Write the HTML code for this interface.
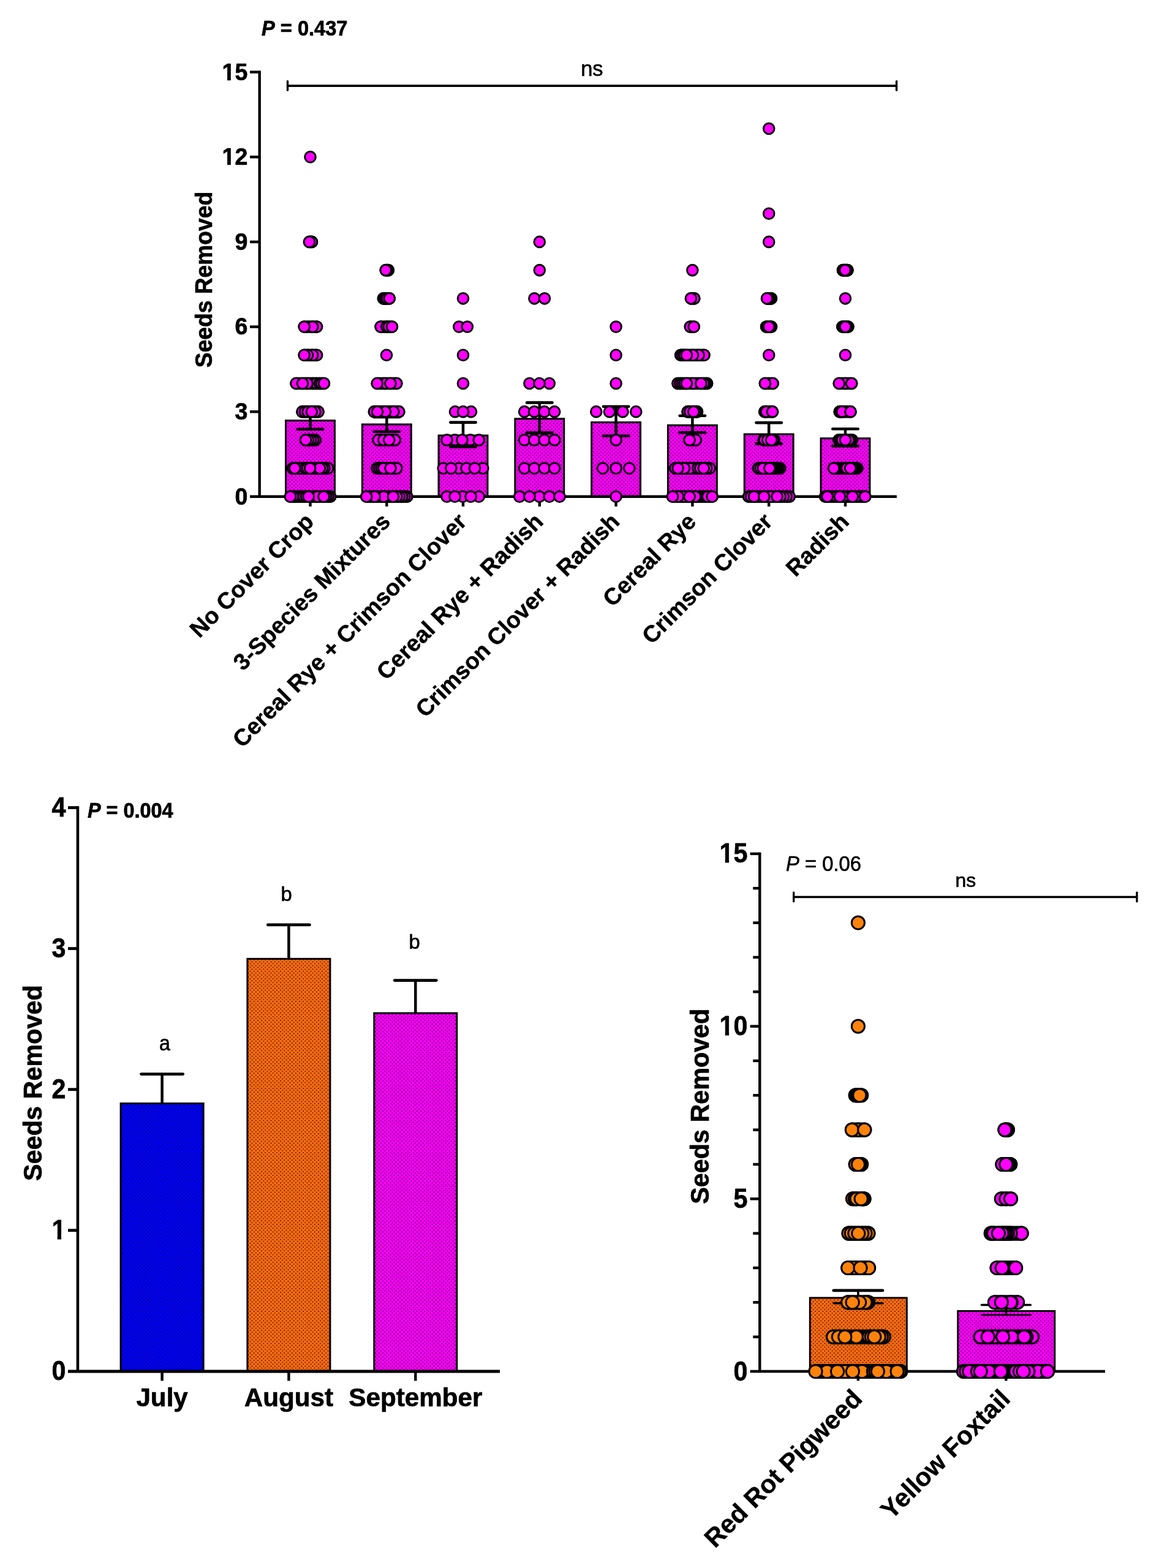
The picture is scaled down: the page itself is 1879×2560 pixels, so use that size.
<!DOCTYPE html>
<html lang="en"><head><meta charset="utf-8"><title>Seeds Removed</title>
<style>html,body{margin:0;padding:0;background:#fff}svg{display:block}text{font-family:"Liberation Sans",sans-serif;fill:#000}</style>
</head><body>
<svg width="1879" height="2560" viewBox="0 0 1879 2560" role="img" aria-label="Seeds removed charts">
<defs>
<pattern id="pm" width="6.19" height="6.17" patternUnits="userSpaceOnUse">
<rect width="6.19" height="6.17" fill="#FF00FF"/>
<circle cx="0" cy="0" r="0.86" fill="#000"/>
<circle cx="6.19" cy="0" r="0.86" fill="#000"/>
<circle cx="0" cy="6.17" r="0.86" fill="#000"/>
<circle cx="6.19" cy="6.17" r="0.86" fill="#000"/>
<circle cx="3.1" cy="3.08" r="0.86" fill="#000"/>
</pattern>
<pattern id="pb" width="6.19" height="6.17" patternUnits="userSpaceOnUse">
<rect width="6.19" height="6.17" fill="#0000FF"/>
<circle cx="0" cy="0" r="0.86" fill="#000"/>
<circle cx="6.19" cy="0" r="0.86" fill="#000"/>
<circle cx="0" cy="6.17" r="0.86" fill="#000"/>
<circle cx="6.19" cy="6.17" r="0.86" fill="#000"/>
<circle cx="3.1" cy="3.08" r="0.86" fill="#000"/>
</pattern>
<pattern id="po" width="6.19" height="6.17" patternUnits="userSpaceOnUse">
<rect width="6.19" height="6.17" fill="#FF6A0D"/>
<circle cx="0" cy="0" r="0.86" fill="#000"/>
<circle cx="6.19" cy="0" r="0.86" fill="#000"/>
<circle cx="0" cy="6.17" r="0.86" fill="#000"/>
<circle cx="6.19" cy="6.17" r="0.86" fill="#000"/>
<circle cx="3.1" cy="3.08" r="0.86" fill="#000"/>
</pattern>
</defs>
<rect width="1879" height="2560" fill="#fff"/>
<g id="chart1">
<rect x="466.55" y="686.6" width="79.9" height="124.2" fill="url(#pm)" stroke="#000" stroke-width="3"/>
<rect x="591.35" y="692.9" width="79.9" height="117.9" fill="url(#pm)" stroke="#000" stroke-width="3"/>
<rect x="716.05" y="711" width="79.9" height="99.8" fill="url(#pm)" stroke="#000" stroke-width="3"/>
<rect x="840.85" y="683.7" width="79.9" height="127.1" fill="url(#pm)" stroke="#000" stroke-width="3"/>
<rect x="965.65" y="689.5" width="79.9" height="121.3" fill="url(#pm)" stroke="#000" stroke-width="3"/>
<rect x="1090.45" y="694.3" width="79.9" height="116.5" fill="url(#pm)" stroke="#000" stroke-width="3"/>
<rect x="1215.25" y="708.9" width="79.9" height="101.9" fill="url(#pm)" stroke="#000" stroke-width="3"/>
<rect x="1340.05" y="715.7" width="79.9" height="95.1" fill="url(#pm)" stroke="#000" stroke-width="3"/>
<line x1="423.7" y1="115.4" x2="423.7" y2="810.8" stroke="#000" stroke-width="4.4" stroke-linecap="butt"/>
<line x1="408" y1="810.8" x2="1463.9" y2="810.8" stroke="#000" stroke-width="4.4" stroke-linecap="butt"/>
<line x1="408" y1="672.17" x2="423.7" y2="672.17" stroke="#000" stroke-width="4.4" stroke-linecap="butt"/>
<line x1="408" y1="533.54" x2="423.7" y2="533.54" stroke="#000" stroke-width="4.4" stroke-linecap="butt"/>
<line x1="408" y1="394.91" x2="423.7" y2="394.91" stroke="#000" stroke-width="4.4" stroke-linecap="butt"/>
<line x1="408" y1="256.28" x2="423.7" y2="256.28" stroke="#000" stroke-width="4.4" stroke-linecap="butt"/>
<line x1="408" y1="117.65" x2="423.7" y2="117.65" stroke="#000" stroke-width="4.4" stroke-linecap="butt"/>
<line x1="506.5" y1="810.8" x2="506.5" y2="826.9" stroke="#000" stroke-width="4.4" stroke-linecap="butt"/>
<line x1="631.3" y1="810.8" x2="631.3" y2="826.9" stroke="#000" stroke-width="4.4" stroke-linecap="butt"/>
<line x1="756" y1="810.8" x2="756" y2="826.9" stroke="#000" stroke-width="4.4" stroke-linecap="butt"/>
<line x1="880.8" y1="810.8" x2="880.8" y2="826.9" stroke="#000" stroke-width="4.4" stroke-linecap="butt"/>
<line x1="1005.6" y1="810.8" x2="1005.6" y2="826.9" stroke="#000" stroke-width="4.4" stroke-linecap="butt"/>
<line x1="1130.4" y1="810.8" x2="1130.4" y2="826.9" stroke="#000" stroke-width="4.4" stroke-linecap="butt"/>
<line x1="1255.2" y1="810.8" x2="1255.2" y2="826.9" stroke="#000" stroke-width="4.4" stroke-linecap="butt"/>
<line x1="1380" y1="810.8" x2="1380" y2="826.9" stroke="#000" stroke-width="4.4" stroke-linecap="butt"/>
<text transform="translate(404.3 823.7) scale(1 1.050)" font-size="37.5" font-weight="bold" text-anchor="end" stroke="#000" stroke-width="0.7" stroke-linejoin="round">0</text>
<text transform="translate(404.3 685.07) scale(1 1.050)" font-size="37.5" font-weight="bold" text-anchor="end" stroke="#000" stroke-width="0.7" stroke-linejoin="round">3</text>
<text transform="translate(404.3 546.44) scale(1 1.050)" font-size="37.5" font-weight="bold" text-anchor="end" stroke="#000" stroke-width="0.7" stroke-linejoin="round">6</text>
<text transform="translate(404.3 407.81) scale(1 1.050)" font-size="37.5" font-weight="bold" text-anchor="end" stroke="#000" stroke-width="0.7" stroke-linejoin="round">9</text>
<text transform="translate(404.3 269.18) scale(1 1.050)" font-size="37.5" font-weight="bold" text-anchor="end" stroke="#000" stroke-width="0.7" stroke-linejoin="round">12</text>
<g transform="translate(404.3 269.18) scale(1 1.050)" fill="#fff"><rect x="-40.54" y="-5.67" width="7.23" height="6.88"/><rect x="-27.44" y="-5.67" width="6.74" height="6.88"/></g>
<text transform="translate(404.3 130.55) scale(1 1.050)" font-size="37.5" font-weight="bold" text-anchor="end" stroke="#000" stroke-width="0.7" stroke-linejoin="round">15</text>
<g transform="translate(404.3 130.55) scale(1 1.050)" fill="#fff"><rect x="-40.54" y="-5.67" width="7.23" height="6.88"/><rect x="-27.44" y="-5.67" width="6.74" height="6.88"/></g>
<text transform="translate(345.6 456.5) rotate(-90) scale(1 1.030)" font-size="37.2" font-weight="bold" text-anchor="middle" stroke="#000" stroke-width="0.7" stroke-linejoin="round">Seeds Removed</text>
<line x1="506.5" y1="672.3" x2="506.5" y2="700.7" stroke="#000" stroke-width="4.5" stroke-linecap="butt"/>
<line x1="485.8" y1="672.3" x2="527.2" y2="672.3" stroke="#000" stroke-width="4.6" stroke-linecap="round"/>
<line x1="485.8" y1="700.7" x2="527.2" y2="700.7" stroke="#000" stroke-width="4.6" stroke-linecap="round"/>
<line x1="631.3" y1="680.9" x2="631.3" y2="704.7" stroke="#000" stroke-width="4.5" stroke-linecap="butt"/>
<line x1="610.6" y1="680.9" x2="652" y2="680.9" stroke="#000" stroke-width="4.6" stroke-linecap="round"/>
<line x1="610.6" y1="704.7" x2="652" y2="704.7" stroke="#000" stroke-width="4.6" stroke-linecap="round"/>
<line x1="756" y1="689.6" x2="756" y2="729.4" stroke="#000" stroke-width="4.5" stroke-linecap="butt"/>
<line x1="735.3" y1="689.6" x2="776.7" y2="689.6" stroke="#000" stroke-width="4.6" stroke-linecap="round"/>
<line x1="735.3" y1="729.4" x2="776.7" y2="729.4" stroke="#000" stroke-width="4.6" stroke-linecap="round"/>
<line x1="880.8" y1="657.4" x2="880.8" y2="706.6" stroke="#000" stroke-width="4.5" stroke-linecap="butt"/>
<line x1="860.1" y1="657.4" x2="901.5" y2="657.4" stroke="#000" stroke-width="4.6" stroke-linecap="round"/>
<line x1="860.1" y1="706.6" x2="901.5" y2="706.6" stroke="#000" stroke-width="4.6" stroke-linecap="round"/>
<line x1="1005.6" y1="663.8" x2="1005.6" y2="711.7" stroke="#000" stroke-width="4.5" stroke-linecap="butt"/>
<line x1="984.9" y1="663.8" x2="1026.3" y2="663.8" stroke="#000" stroke-width="4.6" stroke-linecap="round"/>
<line x1="984.9" y1="711.7" x2="1026.3" y2="711.7" stroke="#000" stroke-width="4.6" stroke-linecap="round"/>
<line x1="1130.4" y1="678.8" x2="1130.4" y2="706.2" stroke="#000" stroke-width="4.5" stroke-linecap="butt"/>
<line x1="1109.7" y1="678.8" x2="1151.1" y2="678.8" stroke="#000" stroke-width="4.6" stroke-linecap="round"/>
<line x1="1109.7" y1="706.2" x2="1151.1" y2="706.2" stroke="#000" stroke-width="4.6" stroke-linecap="round"/>
<line x1="1255.2" y1="690.1" x2="1255.2" y2="724.4" stroke="#000" stroke-width="4.5" stroke-linecap="butt"/>
<line x1="1234.5" y1="690.1" x2="1275.9" y2="690.1" stroke="#000" stroke-width="4.6" stroke-linecap="round"/>
<line x1="1234.5" y1="724.4" x2="1275.9" y2="724.4" stroke="#000" stroke-width="4.6" stroke-linecap="round"/>
<line x1="1380" y1="700.3" x2="1380" y2="728.3" stroke="#000" stroke-width="4.5" stroke-linecap="butt"/>
<line x1="1359.3" y1="700.3" x2="1400.7" y2="700.3" stroke="#000" stroke-width="4.6" stroke-linecap="round"/>
<line x1="1359.3" y1="728.3" x2="1400.7" y2="728.3" stroke="#000" stroke-width="4.6" stroke-linecap="round"/>
<rect x="463.7" y="800.5" width="85.7" height="20.6" rx="10.3" fill="#000"/>
<circle cx="489.5" cy="810.8" r="8.85" fill="#FF00FF" stroke="#000" stroke-width="2.9"/>
<circle cx="514.5" cy="810.8" r="8.85" fill="#FF00FF" stroke="#000" stroke-width="2.9"/>
<circle cx="539.1" cy="810.8" r="8.85" fill="#FF00FF" stroke="#000" stroke-width="2.9"/>
<circle cx="518.5" cy="810.8" r="8.85" fill="#FF00FF" stroke="#000" stroke-width="2.9"/>
<circle cx="482" cy="810.8" r="8.85" fill="#FF00FF" stroke="#000" stroke-width="2.9"/>
<circle cx="496" cy="810.8" r="8.85" fill="#FF00FF" stroke="#000" stroke-width="2.9"/>
<circle cx="535.5" cy="810.8" r="8.85" fill="#FF00FF" stroke="#000" stroke-width="2.9"/>
<circle cx="478" cy="810.8" r="8.85" fill="#FF00FF" stroke="#000" stroke-width="2.9"/>
<circle cx="500" cy="810.8" r="8.85" fill="#FF00FF" stroke="#000" stroke-width="2.9"/>
<circle cx="532" cy="810.8" r="8.85" fill="#FF00FF" stroke="#000" stroke-width="2.9"/>
<circle cx="474" cy="810.8" r="8.85" fill="#FF00FF" stroke="#000" stroke-width="2.9"/>
<circle cx="503.7" cy="810.8" r="8.85" fill="#FF00FF" stroke="#000" stroke-width="2.9"/>
<circle cx="528.5" cy="810.8" r="8.85" fill="#FF00FF" stroke="#000" stroke-width="2.9"/>
<rect x="467.7" y="754.29" width="77.7" height="20.6" rx="10.3" fill="#000"/>
<circle cx="535.1" cy="764.59" r="8.85" fill="#FF00FF" stroke="#000" stroke-width="2.9"/>
<circle cx="490.5" cy="764.59" r="8.85" fill="#FF00FF" stroke="#000" stroke-width="2.9"/>
<circle cx="529.5" cy="764.59" r="8.85" fill="#FF00FF" stroke="#000" stroke-width="2.9"/>
<circle cx="498.5" cy="764.59" r="8.85" fill="#FF00FF" stroke="#000" stroke-width="2.9"/>
<circle cx="526" cy="764.59" r="8.85" fill="#FF00FF" stroke="#000" stroke-width="2.9"/>
<circle cx="502" cy="764.59" r="8.85" fill="#FF00FF" stroke="#000" stroke-width="2.9"/>
<circle cx="478" cy="764.59" r="8.85" fill="#FF00FF" stroke="#000" stroke-width="2.9"/>
<circle cx="521.8" cy="764.59" r="8.85" fill="#FF00FF" stroke="#000" stroke-width="2.9"/>
<circle cx="481.2" cy="764.59" r="8.85" fill="#FF00FF" stroke="#000" stroke-width="2.9"/>
<circle cx="506.1" cy="764.59" r="8.85" fill="#FF00FF" stroke="#000" stroke-width="2.9"/>
<rect x="488.7" y="708.08" width="36.1" height="20.6" rx="10.3" fill="#000"/>
<circle cx="514.5" cy="718.38" r="8.85" fill="#FF00FF" stroke="#000" stroke-width="2.9"/>
<circle cx="511" cy="718.38" r="8.85" fill="#FF00FF" stroke="#000" stroke-width="2.9"/>
<circle cx="507" cy="718.38" r="8.85" fill="#FF00FF" stroke="#000" stroke-width="2.9"/>
<circle cx="503" cy="718.38" r="8.85" fill="#FF00FF" stroke="#000" stroke-width="2.9"/>
<circle cx="499" cy="718.38" r="8.85" fill="#FF00FF" stroke="#000" stroke-width="2.9"/>
<rect x="483.2" y="661.87" width="46.6" height="20.6" rx="10.3" fill="#000"/>
<circle cx="493.5" cy="672.17" r="8.85" fill="#FF00FF" stroke="#000" stroke-width="2.9"/>
<circle cx="498" cy="672.17" r="8.85" fill="#FF00FF" stroke="#000" stroke-width="2.9"/>
<circle cx="519.5" cy="672.17" r="8.85" fill="#FF00FF" stroke="#000" stroke-width="2.9"/>
<circle cx="502.5" cy="672.17" r="8.85" fill="#FF00FF" stroke="#000" stroke-width="2.9"/>
<circle cx="514.5" cy="672.17" r="8.85" fill="#FF00FF" stroke="#000" stroke-width="2.9"/>
<circle cx="508.8" cy="672.17" r="8.85" fill="#FF00FF" stroke="#000" stroke-width="2.9"/>
<rect x="473.2" y="615.66" width="66" height="20.6" rx="10.3" fill="#000"/>
<circle cx="511.5" cy="625.96" r="8.85" fill="#FF00FF" stroke="#000" stroke-width="2.9"/>
<circle cx="516.5" cy="625.96" r="8.85" fill="#FF00FF" stroke="#000" stroke-width="2.9"/>
<circle cx="483.5" cy="625.96" r="8.85" fill="#FF00FF" stroke="#000" stroke-width="2.9"/>
<circle cx="501.5" cy="625.96" r="8.85" fill="#FF00FF" stroke="#000" stroke-width="2.9"/>
<circle cx="521.8" cy="625.96" r="8.85" fill="#FF00FF" stroke="#000" stroke-width="2.9"/>
<circle cx="525" cy="625.96" r="8.85" fill="#FF00FF" stroke="#000" stroke-width="2.9"/>
<circle cx="494" cy="625.96" r="8.85" fill="#FF00FF" stroke="#000" stroke-width="2.9"/>
<circle cx="528.9" cy="625.96" r="8.85" fill="#FF00FF" stroke="#000" stroke-width="2.9"/>
<rect x="486.4" y="569.45" width="40.9" height="20.6" rx="10.3" fill="#000"/>
<circle cx="517" cy="579.75" r="8.85" fill="#FF00FF" stroke="#000" stroke-width="2.9"/>
<circle cx="510.3" cy="579.75" r="8.85" fill="#FF00FF" stroke="#000" stroke-width="2.9"/>
<circle cx="502" cy="579.75" r="8.85" fill="#FF00FF" stroke="#000" stroke-width="2.9"/>
<circle cx="496.7" cy="579.75" r="8.85" fill="#FF00FF" stroke="#000" stroke-width="2.9"/>
<rect x="486.4" y="523.24" width="40.9" height="20.6" rx="10.3" fill="#000"/>
<circle cx="517" cy="533.54" r="8.85" fill="#FF00FF" stroke="#000" stroke-width="2.9"/>
<circle cx="510.3" cy="533.54" r="8.85" fill="#FF00FF" stroke="#000" stroke-width="2.9"/>
<circle cx="496.7" cy="533.54" r="8.85" fill="#FF00FF" stroke="#000" stroke-width="2.9"/>
<rect x="494.7" y="384.61" width="24.6" height="20.6" rx="10.3" fill="#000"/>
<circle cx="509" cy="394.91" r="8.85" fill="#FF00FF" stroke="#000" stroke-width="2.9"/>
<circle cx="505" cy="394.91" r="8.85" fill="#FF00FF" stroke="#000" stroke-width="2.9"/>
<circle cx="506.5" cy="256.28" r="8.85" fill="#FF00FF" stroke="#000" stroke-width="2.9"/>
<rect x="588" y="800.5" width="86.6" height="20.6" rx="10.3" fill="#000"/>
<circle cx="664.3" cy="810.8" r="8.85" fill="#FF00FF" stroke="#000" stroke-width="2.9"/>
<circle cx="660.3" cy="810.8" r="8.85" fill="#FF00FF" stroke="#000" stroke-width="2.9"/>
<circle cx="626.5" cy="810.8" r="8.85" fill="#FF00FF" stroke="#000" stroke-width="2.9"/>
<circle cx="656.3" cy="810.8" r="8.85" fill="#FF00FF" stroke="#000" stroke-width="2.9"/>
<circle cx="611.6" cy="810.8" r="8.85" fill="#FF00FF" stroke="#000" stroke-width="2.9"/>
<circle cx="651.8" cy="810.8" r="8.85" fill="#FF00FF" stroke="#000" stroke-width="2.9"/>
<circle cx="647.3" cy="810.8" r="8.85" fill="#FF00FF" stroke="#000" stroke-width="2.9"/>
<circle cx="598.3" cy="810.8" r="8.85" fill="#FF00FF" stroke="#000" stroke-width="2.9"/>
<circle cx="641.9" cy="810.8" r="8.85" fill="#FF00FF" stroke="#000" stroke-width="2.9"/>
<rect x="605.4" y="754.29" width="52.2" height="20.6" rx="10.3" fill="#000"/>
<circle cx="615.7" cy="764.59" r="8.85" fill="#FF00FF" stroke="#000" stroke-width="2.9"/>
<circle cx="619.3" cy="764.59" r="8.85" fill="#FF00FF" stroke="#000" stroke-width="2.9"/>
<circle cx="622.8" cy="764.59" r="8.85" fill="#FF00FF" stroke="#000" stroke-width="2.9"/>
<circle cx="626.3" cy="764.59" r="8.85" fill="#FF00FF" stroke="#000" stroke-width="2.9"/>
<circle cx="647.3" cy="764.59" r="8.85" fill="#FF00FF" stroke="#000" stroke-width="2.9"/>
<circle cx="637.5" cy="764.59" r="8.85" fill="#FF00FF" stroke="#000" stroke-width="2.9"/>
<rect x="607.4" y="708.08" width="47.4" height="20.6" rx="10.3" fill="#000"/>
<circle cx="617.7" cy="718.38" r="8.85" fill="#FF00FF" stroke="#000" stroke-width="2.9"/>
<circle cx="644.5" cy="718.38" r="8.85" fill="#FF00FF" stroke="#000" stroke-width="2.9"/>
<circle cx="626.3" cy="718.38" r="8.85" fill="#FF00FF" stroke="#000" stroke-width="2.9"/>
<circle cx="635.2" cy="718.38" r="8.85" fill="#FF00FF" stroke="#000" stroke-width="2.9"/>
<rect x="600.6" y="661.87" width="61" height="20.6" rx="10.3" fill="#000"/>
<circle cx="651.3" cy="672.17" r="8.85" fill="#FF00FF" stroke="#000" stroke-width="2.9"/>
<circle cx="642.3" cy="672.17" r="8.85" fill="#FF00FF" stroke="#000" stroke-width="2.9"/>
<circle cx="628.9" cy="672.17" r="8.85" fill="#FF00FF" stroke="#000" stroke-width="2.9"/>
<circle cx="610.9" cy="672.17" r="8.85" fill="#FF00FF" stroke="#000" stroke-width="2.9"/>
<circle cx="616" cy="672.17" r="8.85" fill="#FF00FF" stroke="#000" stroke-width="2.9"/>
<rect x="605.5" y="615.66" width="52.1" height="20.6" rx="10.3" fill="#000"/>
<circle cx="626.8" cy="625.96" r="8.85" fill="#FF00FF" stroke="#000" stroke-width="2.9"/>
<circle cx="647.3" cy="625.96" r="8.85" fill="#FF00FF" stroke="#000" stroke-width="2.9"/>
<circle cx="629.8" cy="625.96" r="8.85" fill="#FF00FF" stroke="#000" stroke-width="2.9"/>
<circle cx="615.8" cy="625.96" r="8.85" fill="#FF00FF" stroke="#000" stroke-width="2.9"/>
<circle cx="637.5" cy="625.96" r="8.85" fill="#FF00FF" stroke="#000" stroke-width="2.9"/>
<circle cx="631" cy="579.75" r="8.85" fill="#FF00FF" stroke="#000" stroke-width="2.9"/>
<rect x="611.3" y="523.24" width="38.9" height="20.6" rx="10.3" fill="#000"/>
<circle cx="621.6" cy="533.54" r="8.85" fill="#FF00FF" stroke="#000" stroke-width="2.9"/>
<circle cx="631.3" cy="533.54" r="8.85" fill="#FF00FF" stroke="#000" stroke-width="2.9"/>
<circle cx="634.8" cy="533.54" r="8.85" fill="#FF00FF" stroke="#000" stroke-width="2.9"/>
<circle cx="639.9" cy="533.54" r="8.85" fill="#FF00FF" stroke="#000" stroke-width="2.9"/>
<rect x="615.6" y="477.03" width="30.4" height="20.6" rx="10.3" fill="#000"/>
<circle cx="625.9" cy="487.33" r="8.85" fill="#FF00FF" stroke="#000" stroke-width="2.9"/>
<circle cx="627.9" cy="487.33" r="8.85" fill="#FF00FF" stroke="#000" stroke-width="2.9"/>
<circle cx="629.9" cy="487.33" r="8.85" fill="#FF00FF" stroke="#000" stroke-width="2.9"/>
<circle cx="631.9" cy="487.33" r="8.85" fill="#FF00FF" stroke="#000" stroke-width="2.9"/>
<circle cx="635.7" cy="487.33" r="8.85" fill="#FF00FF" stroke="#000" stroke-width="2.9"/>
<rect x="619.4" y="430.82" width="24.7" height="20.6" rx="10.3" fill="#000"/>
<circle cx="633.8" cy="441.12" r="8.85" fill="#FF00FF" stroke="#000" stroke-width="2.9"/>
<circle cx="631.8" cy="441.12" r="8.85" fill="#FF00FF" stroke="#000" stroke-width="2.9"/>
<circle cx="629.7" cy="441.12" r="8.85" fill="#FF00FF" stroke="#000" stroke-width="2.9"/>
<circle cx="755.5" cy="810.8" r="8.85" fill="#FF00FF" stroke="#000" stroke-width="2.9"/>
<circle cx="729.5" cy="810.8" r="8.85" fill="#FF00FF" stroke="#000" stroke-width="2.9"/>
<circle cx="781.7" cy="810.8" r="8.85" fill="#FF00FF" stroke="#000" stroke-width="2.9"/>
<circle cx="742.6" cy="810.8" r="8.85" fill="#FF00FF" stroke="#000" stroke-width="2.9"/>
<circle cx="768.6" cy="810.8" r="8.85" fill="#FF00FF" stroke="#000" stroke-width="2.9"/>
<circle cx="723.7" cy="764.59" r="8.85" fill="#FF00FF" stroke="#000" stroke-width="2.9"/>
<circle cx="749" cy="764.59" r="8.85" fill="#FF00FF" stroke="#000" stroke-width="2.9"/>
<circle cx="761.5" cy="764.59" r="8.85" fill="#FF00FF" stroke="#000" stroke-width="2.9"/>
<circle cx="788.3" cy="764.59" r="8.85" fill="#FF00FF" stroke="#000" stroke-width="2.9"/>
<circle cx="736.3" cy="764.59" r="8.85" fill="#FF00FF" stroke="#000" stroke-width="2.9"/>
<circle cx="775" cy="764.59" r="8.85" fill="#FF00FF" stroke="#000" stroke-width="2.9"/>
<circle cx="742.6" cy="718.38" r="8.85" fill="#FF00FF" stroke="#000" stroke-width="2.9"/>
<circle cx="767.8" cy="718.38" r="8.85" fill="#FF00FF" stroke="#000" stroke-width="2.9"/>
<circle cx="754.4" cy="718.38" r="8.85" fill="#FF00FF" stroke="#000" stroke-width="2.9"/>
<circle cx="729.5" cy="718.38" r="8.85" fill="#FF00FF" stroke="#000" stroke-width="2.9"/>
<circle cx="781.7" cy="718.38" r="8.85" fill="#FF00FF" stroke="#000" stroke-width="2.9"/>
<circle cx="743" cy="672.17" r="8.85" fill="#FF00FF" stroke="#000" stroke-width="2.9"/>
<circle cx="769" cy="672.17" r="8.85" fill="#FF00FF" stroke="#000" stroke-width="2.9"/>
<circle cx="756" cy="672.17" r="8.85" fill="#FF00FF" stroke="#000" stroke-width="2.9"/>
<circle cx="756" cy="625.96" r="8.85" fill="#FF00FF" stroke="#000" stroke-width="2.9"/>
<circle cx="756" cy="579.75" r="8.85" fill="#FF00FF" stroke="#000" stroke-width="2.9"/>
<circle cx="749.3" cy="533.54" r="8.85" fill="#FF00FF" stroke="#000" stroke-width="2.9"/>
<circle cx="762.9" cy="533.54" r="8.85" fill="#FF00FF" stroke="#000" stroke-width="2.9"/>
<circle cx="756" cy="487.33" r="8.85" fill="#FF00FF" stroke="#000" stroke-width="2.9"/>
<circle cx="880.5" cy="810.8" r="8.85" fill="#FF00FF" stroke="#000" stroke-width="2.9"/>
<circle cx="848.2" cy="810.8" r="8.85" fill="#FF00FF" stroke="#000" stroke-width="2.9"/>
<circle cx="864.4" cy="810.8" r="8.85" fill="#FF00FF" stroke="#000" stroke-width="2.9"/>
<circle cx="896.8" cy="810.8" r="8.85" fill="#FF00FF" stroke="#000" stroke-width="2.9"/>
<circle cx="913.5" cy="810.8" r="8.85" fill="#FF00FF" stroke="#000" stroke-width="2.9"/>
<circle cx="856.1" cy="764.59" r="8.85" fill="#FF00FF" stroke="#000" stroke-width="2.9"/>
<circle cx="872.3" cy="764.59" r="8.85" fill="#FF00FF" stroke="#000" stroke-width="2.9"/>
<circle cx="888.7" cy="764.59" r="8.85" fill="#FF00FF" stroke="#000" stroke-width="2.9"/>
<circle cx="905.2" cy="764.59" r="8.85" fill="#FF00FF" stroke="#000" stroke-width="2.9"/>
<circle cx="856.1" cy="718.38" r="8.85" fill="#FF00FF" stroke="#000" stroke-width="2.9"/>
<circle cx="872.3" cy="718.38" r="8.85" fill="#FF00FF" stroke="#000" stroke-width="2.9"/>
<circle cx="888.7" cy="718.38" r="8.85" fill="#FF00FF" stroke="#000" stroke-width="2.9"/>
<circle cx="905.2" cy="718.38" r="8.85" fill="#FF00FF" stroke="#000" stroke-width="2.9"/>
<circle cx="856.1" cy="672.17" r="8.85" fill="#FF00FF" stroke="#000" stroke-width="2.9"/>
<circle cx="872.3" cy="672.17" r="8.85" fill="#FF00FF" stroke="#000" stroke-width="2.9"/>
<circle cx="888.7" cy="672.17" r="8.85" fill="#FF00FF" stroke="#000" stroke-width="2.9"/>
<circle cx="905.2" cy="672.17" r="8.85" fill="#FF00FF" stroke="#000" stroke-width="2.9"/>
<circle cx="864.4" cy="625.96" r="8.85" fill="#FF00FF" stroke="#000" stroke-width="2.9"/>
<circle cx="896.8" cy="625.96" r="8.85" fill="#FF00FF" stroke="#000" stroke-width="2.9"/>
<circle cx="880.5" cy="625.96" r="8.85" fill="#FF00FF" stroke="#000" stroke-width="2.9"/>
<circle cx="872.4" cy="487.33" r="8.85" fill="#FF00FF" stroke="#000" stroke-width="2.9"/>
<circle cx="889" cy="487.33" r="8.85" fill="#FF00FF" stroke="#000" stroke-width="2.9"/>
<circle cx="880.8" cy="441.12" r="8.85" fill="#FF00FF" stroke="#000" stroke-width="2.9"/>
<circle cx="880.8" cy="394.91" r="8.85" fill="#FF00FF" stroke="#000" stroke-width="2.9"/>
<circle cx="1005.6" cy="810.8" r="8.85" fill="#FF00FF" stroke="#000" stroke-width="2.9"/>
<circle cx="984" cy="764.59" r="8.85" fill="#FF00FF" stroke="#000" stroke-width="2.9"/>
<circle cx="1005.6" cy="764.59" r="8.85" fill="#FF00FF" stroke="#000" stroke-width="2.9"/>
<circle cx="1027.3" cy="764.59" r="8.85" fill="#FF00FF" stroke="#000" stroke-width="2.9"/>
<circle cx="1005.6" cy="718.38" r="8.85" fill="#FF00FF" stroke="#000" stroke-width="2.9"/>
<circle cx="973.3" cy="672.17" r="8.85" fill="#FF00FF" stroke="#000" stroke-width="2.9"/>
<circle cx="994.9" cy="672.17" r="8.85" fill="#FF00FF" stroke="#000" stroke-width="2.9"/>
<circle cx="1016.6" cy="672.17" r="8.85" fill="#FF00FF" stroke="#000" stroke-width="2.9"/>
<circle cx="1038.3" cy="672.17" r="8.85" fill="#FF00FF" stroke="#000" stroke-width="2.9"/>
<circle cx="1005.6" cy="625.96" r="8.85" fill="#FF00FF" stroke="#000" stroke-width="2.9"/>
<circle cx="1005.6" cy="579.75" r="8.85" fill="#FF00FF" stroke="#000" stroke-width="2.9"/>
<circle cx="1005.6" cy="533.54" r="8.85" fill="#FF00FF" stroke="#000" stroke-width="2.9"/>
<rect x="1087.8" y="800.5" width="85.1" height="20.6" rx="10.3" fill="#000"/>
<circle cx="1142.4" cy="810.8" r="8.85" fill="#FF00FF" stroke="#000" stroke-width="2.9"/>
<circle cx="1146.4" cy="810.8" r="8.85" fill="#FF00FF" stroke="#000" stroke-width="2.9"/>
<circle cx="1149.4" cy="810.8" r="8.85" fill="#FF00FF" stroke="#000" stroke-width="2.9"/>
<circle cx="1152.4" cy="810.8" r="8.85" fill="#FF00FF" stroke="#000" stroke-width="2.9"/>
<circle cx="1134.9" cy="810.8" r="8.85" fill="#FF00FF" stroke="#000" stroke-width="2.9"/>
<circle cx="1116.4" cy="810.8" r="8.85" fill="#FF00FF" stroke="#000" stroke-width="2.9"/>
<circle cx="1106.9" cy="810.8" r="8.85" fill="#FF00FF" stroke="#000" stroke-width="2.9"/>
<circle cx="1155.4" cy="810.8" r="8.85" fill="#FF00FF" stroke="#000" stroke-width="2.9"/>
<circle cx="1098.1" cy="810.8" r="8.85" fill="#FF00FF" stroke="#000" stroke-width="2.9"/>
<circle cx="1125.6" cy="810.8" r="8.85" fill="#FF00FF" stroke="#000" stroke-width="2.9"/>
<circle cx="1162.6" cy="810.8" r="8.85" fill="#FF00FF" stroke="#000" stroke-width="2.9"/>
<rect x="1092.2" y="754.29" width="76.6" height="20.6" rx="10.3" fill="#000"/>
<circle cx="1126.4" cy="764.59" r="8.85" fill="#FF00FF" stroke="#000" stroke-width="2.9"/>
<circle cx="1117" cy="764.59" r="8.85" fill="#FF00FF" stroke="#000" stroke-width="2.9"/>
<circle cx="1158.5" cy="764.59" r="8.85" fill="#FF00FF" stroke="#000" stroke-width="2.9"/>
<circle cx="1139.4" cy="764.59" r="8.85" fill="#FF00FF" stroke="#000" stroke-width="2.9"/>
<circle cx="1143.4" cy="764.59" r="8.85" fill="#FF00FF" stroke="#000" stroke-width="2.9"/>
<circle cx="1153.4" cy="764.59" r="8.85" fill="#FF00FF" stroke="#000" stroke-width="2.9"/>
<circle cx="1102.5" cy="764.59" r="8.85" fill="#FF00FF" stroke="#000" stroke-width="2.9"/>
<circle cx="1106.7" cy="764.59" r="8.85" fill="#FF00FF" stroke="#000" stroke-width="2.9"/>
<circle cx="1148.7" cy="764.59" r="8.85" fill="#FF00FF" stroke="#000" stroke-width="2.9"/>
<rect x="1115.3" y="708.08" width="30.7" height="20.6" rx="10.3" fill="#000"/>
<circle cx="1135.7" cy="718.38" r="8.85" fill="#FF00FF" stroke="#000" stroke-width="2.9"/>
<circle cx="1125.6" cy="718.38" r="8.85" fill="#FF00FF" stroke="#000" stroke-width="2.9"/>
<rect x="1112.3" y="661.87" width="36" height="20.6" rx="10.3" fill="#000"/>
<circle cx="1122.6" cy="672.17" r="8.85" fill="#FF00FF" stroke="#000" stroke-width="2.9"/>
<circle cx="1126.4" cy="672.17" r="8.85" fill="#FF00FF" stroke="#000" stroke-width="2.9"/>
<circle cx="1138" cy="672.17" r="8.85" fill="#FF00FF" stroke="#000" stroke-width="2.9"/>
<circle cx="1135.4" cy="672.17" r="8.85" fill="#FF00FF" stroke="#000" stroke-width="2.9"/>
<circle cx="1132.2" cy="672.17" r="8.85" fill="#FF00FF" stroke="#000" stroke-width="2.9"/>
<rect x="1096.3" y="615.66" width="68.1" height="20.6" rx="10.3" fill="#000"/>
<circle cx="1106.6" cy="625.96" r="8.85" fill="#FF00FF" stroke="#000" stroke-width="2.9"/>
<circle cx="1110.4" cy="625.96" r="8.85" fill="#FF00FF" stroke="#000" stroke-width="2.9"/>
<circle cx="1131.1" cy="625.96" r="8.85" fill="#FF00FF" stroke="#000" stroke-width="2.9"/>
<circle cx="1154.1" cy="625.96" r="8.85" fill="#FF00FF" stroke="#000" stroke-width="2.9"/>
<circle cx="1113.9" cy="625.96" r="8.85" fill="#FF00FF" stroke="#000" stroke-width="2.9"/>
<circle cx="1151.4" cy="625.96" r="8.85" fill="#FF00FF" stroke="#000" stroke-width="2.9"/>
<circle cx="1148.4" cy="625.96" r="8.85" fill="#FF00FF" stroke="#000" stroke-width="2.9"/>
<circle cx="1117.4" cy="625.96" r="8.85" fill="#FF00FF" stroke="#000" stroke-width="2.9"/>
<circle cx="1144.4" cy="625.96" r="8.85" fill="#FF00FF" stroke="#000" stroke-width="2.9"/>
<circle cx="1120.9" cy="625.96" r="8.85" fill="#FF00FF" stroke="#000" stroke-width="2.9"/>
<rect x="1101" y="569.45" width="58.7" height="20.6" rx="10.3" fill="#000"/>
<circle cx="1149.4" cy="579.75" r="8.85" fill="#FF00FF" stroke="#000" stroke-width="2.9"/>
<circle cx="1140.6" cy="579.75" r="8.85" fill="#FF00FF" stroke="#000" stroke-width="2.9"/>
<circle cx="1131.1" cy="579.75" r="8.85" fill="#FF00FF" stroke="#000" stroke-width="2.9"/>
<circle cx="1111.3" cy="579.75" r="8.85" fill="#FF00FF" stroke="#000" stroke-width="2.9"/>
<circle cx="1114.4" cy="579.75" r="8.85" fill="#FF00FF" stroke="#000" stroke-width="2.9"/>
<circle cx="1117.4" cy="579.75" r="8.85" fill="#FF00FF" stroke="#000" stroke-width="2.9"/>
<circle cx="1120.9" cy="579.75" r="8.85" fill="#FF00FF" stroke="#000" stroke-width="2.9"/>
<rect x="1116.6" y="523.24" width="26.4" height="20.6" rx="10.3" fill="#000"/>
<circle cx="1126.9" cy="533.54" r="8.85" fill="#FF00FF" stroke="#000" stroke-width="2.9"/>
<circle cx="1132.7" cy="533.54" r="8.85" fill="#FF00FF" stroke="#000" stroke-width="2.9"/>
<rect x="1117.7" y="477.03" width="25.9" height="20.6" rx="10.3" fill="#000"/>
<circle cx="1133.3" cy="487.33" r="8.85" fill="#FF00FF" stroke="#000" stroke-width="2.9"/>
<circle cx="1128" cy="487.33" r="8.85" fill="#FF00FF" stroke="#000" stroke-width="2.9"/>
<circle cx="1130.4" cy="441.12" r="8.85" fill="#FF00FF" stroke="#000" stroke-width="2.9"/>
<rect x="1212" y="800.5" width="86.9" height="20.6" rx="10.3" fill="#000"/>
<circle cx="1288.6" cy="810.8" r="8.85" fill="#FF00FF" stroke="#000" stroke-width="2.9"/>
<circle cx="1283.7" cy="810.8" r="8.85" fill="#FF00FF" stroke="#000" stroke-width="2.9"/>
<circle cx="1258.2" cy="810.8" r="8.85" fill="#FF00FF" stroke="#000" stroke-width="2.9"/>
<circle cx="1278.7" cy="810.8" r="8.85" fill="#FF00FF" stroke="#000" stroke-width="2.9"/>
<circle cx="1222.3" cy="810.8" r="8.85" fill="#FF00FF" stroke="#000" stroke-width="2.9"/>
<circle cx="1239.2" cy="810.8" r="8.85" fill="#FF00FF" stroke="#000" stroke-width="2.9"/>
<circle cx="1273.7" cy="810.8" r="8.85" fill="#FF00FF" stroke="#000" stroke-width="2.9"/>
<circle cx="1226.2" cy="810.8" r="8.85" fill="#FF00FF" stroke="#000" stroke-width="2.9"/>
<circle cx="1231.1" cy="810.8" r="8.85" fill="#FF00FF" stroke="#000" stroke-width="2.9"/>
<circle cx="1247.3" cy="810.8" r="8.85" fill="#FF00FF" stroke="#000" stroke-width="2.9"/>
<circle cx="1268.6" cy="810.8" r="8.85" fill="#FF00FF" stroke="#000" stroke-width="2.9"/>
<rect x="1227.7" y="754.29" width="55.8" height="20.6" rx="10.3" fill="#000"/>
<circle cx="1238" cy="764.59" r="8.85" fill="#FF00FF" stroke="#000" stroke-width="2.9"/>
<circle cx="1273.2" cy="764.59" r="8.85" fill="#FF00FF" stroke="#000" stroke-width="2.9"/>
<circle cx="1241.7" cy="764.59" r="8.85" fill="#FF00FF" stroke="#000" stroke-width="2.9"/>
<circle cx="1270.2" cy="764.59" r="8.85" fill="#FF00FF" stroke="#000" stroke-width="2.9"/>
<circle cx="1268.2" cy="764.59" r="8.85" fill="#FF00FF" stroke="#000" stroke-width="2.9"/>
<circle cx="1245.7" cy="764.59" r="8.85" fill="#FF00FF" stroke="#000" stroke-width="2.9"/>
<circle cx="1266.2" cy="764.59" r="8.85" fill="#FF00FF" stroke="#000" stroke-width="2.9"/>
<circle cx="1264.2" cy="764.59" r="8.85" fill="#FF00FF" stroke="#000" stroke-width="2.9"/>
<circle cx="1262.2" cy="764.59" r="8.85" fill="#FF00FF" stroke="#000" stroke-width="2.9"/>
<circle cx="1260.2" cy="764.59" r="8.85" fill="#FF00FF" stroke="#000" stroke-width="2.9"/>
<circle cx="1258.2" cy="764.59" r="8.85" fill="#FF00FF" stroke="#000" stroke-width="2.9"/>
<circle cx="1256.3" cy="764.59" r="8.85" fill="#FF00FF" stroke="#000" stroke-width="2.9"/>
<rect x="1236.4" y="708.08" width="37.6" height="20.6" rx="10.3" fill="#000"/>
<circle cx="1246.7" cy="718.38" r="8.85" fill="#FF00FF" stroke="#000" stroke-width="2.9"/>
<circle cx="1248.2" cy="718.38" r="8.85" fill="#FF00FF" stroke="#000" stroke-width="2.9"/>
<circle cx="1253.2" cy="718.38" r="8.85" fill="#FF00FF" stroke="#000" stroke-width="2.9"/>
<circle cx="1263.7" cy="718.38" r="8.85" fill="#FF00FF" stroke="#000" stroke-width="2.9"/>
<circle cx="1262.2" cy="718.38" r="8.85" fill="#FF00FF" stroke="#000" stroke-width="2.9"/>
<circle cx="1259.2" cy="718.38" r="8.85" fill="#FF00FF" stroke="#000" stroke-width="2.9"/>
<rect x="1238" y="661.87" width="33.3" height="20.6" rx="10.3" fill="#000"/>
<circle cx="1248.3" cy="672.17" r="8.85" fill="#FF00FF" stroke="#000" stroke-width="2.9"/>
<circle cx="1249.7" cy="672.17" r="8.85" fill="#FF00FF" stroke="#000" stroke-width="2.9"/>
<circle cx="1251" cy="672.17" r="8.85" fill="#FF00FF" stroke="#000" stroke-width="2.9"/>
<circle cx="1261" cy="672.17" r="8.85" fill="#FF00FF" stroke="#000" stroke-width="2.9"/>
<rect x="1238.6" y="615.66" width="33.2" height="20.6" rx="10.3" fill="#000"/>
<circle cx="1261.5" cy="625.96" r="8.85" fill="#FF00FF" stroke="#000" stroke-width="2.9"/>
<circle cx="1248.9" cy="625.96" r="8.85" fill="#FF00FF" stroke="#000" stroke-width="2.9"/>
<circle cx="1255.2" cy="579.75" r="8.85" fill="#FF00FF" stroke="#000" stroke-width="2.9"/>
<rect x="1240.8" y="523.24" width="28.5" height="20.6" rx="10.3" fill="#000"/>
<circle cx="1251.1" cy="533.54" r="8.85" fill="#FF00FF" stroke="#000" stroke-width="2.9"/>
<circle cx="1259" cy="533.54" r="8.85" fill="#FF00FF" stroke="#000" stroke-width="2.9"/>
<circle cx="1252.7" cy="533.54" r="8.85" fill="#FF00FF" stroke="#000" stroke-width="2.9"/>
<circle cx="1257.2" cy="533.54" r="8.85" fill="#FF00FF" stroke="#000" stroke-width="2.9"/>
<circle cx="1255.2" cy="533.54" r="8.85" fill="#FF00FF" stroke="#000" stroke-width="2.9"/>
<rect x="1241.8" y="477.03" width="27.5" height="20.6" rx="10.3" fill="#000"/>
<circle cx="1259" cy="487.33" r="8.85" fill="#FF00FF" stroke="#000" stroke-width="2.9"/>
<circle cx="1257.7" cy="487.33" r="8.85" fill="#FF00FF" stroke="#000" stroke-width="2.9"/>
<circle cx="1256.2" cy="487.33" r="8.85" fill="#FF00FF" stroke="#000" stroke-width="2.9"/>
<circle cx="1254.2" cy="487.33" r="8.85" fill="#FF00FF" stroke="#000" stroke-width="2.9"/>
<circle cx="1252.1" cy="487.33" r="8.85" fill="#FF00FF" stroke="#000" stroke-width="2.9"/>
<circle cx="1255.2" cy="394.91" r="8.85" fill="#FF00FF" stroke="#000" stroke-width="2.9"/>
<circle cx="1255.2" cy="348.7" r="8.85" fill="#FF00FF" stroke="#000" stroke-width="2.9"/>
<circle cx="1255.2" cy="210.07" r="8.85" fill="#FF00FF" stroke="#000" stroke-width="2.9"/>
<rect x="1337.1" y="800.5" width="85.5" height="20.6" rx="10.3" fill="#000"/>
<circle cx="1402" cy="810.8" r="8.85" fill="#FF00FF" stroke="#000" stroke-width="2.9"/>
<circle cx="1381" cy="810.8" r="8.85" fill="#FF00FF" stroke="#000" stroke-width="2.9"/>
<circle cx="1361" cy="810.8" r="8.85" fill="#FF00FF" stroke="#000" stroke-width="2.9"/>
<circle cx="1386" cy="810.8" r="8.85" fill="#FF00FF" stroke="#000" stroke-width="2.9"/>
<circle cx="1356" cy="810.8" r="8.85" fill="#FF00FF" stroke="#000" stroke-width="2.9"/>
<circle cx="1407" cy="810.8" r="8.85" fill="#FF00FF" stroke="#000" stroke-width="2.9"/>
<circle cx="1397" cy="810.8" r="8.85" fill="#FF00FF" stroke="#000" stroke-width="2.9"/>
<circle cx="1376" cy="810.8" r="8.85" fill="#FF00FF" stroke="#000" stroke-width="2.9"/>
<circle cx="1366" cy="810.8" r="8.85" fill="#FF00FF" stroke="#000" stroke-width="2.9"/>
<circle cx="1347.4" cy="810.8" r="8.85" fill="#FF00FF" stroke="#000" stroke-width="2.9"/>
<circle cx="1350.7" cy="810.8" r="8.85" fill="#FF00FF" stroke="#000" stroke-width="2.9"/>
<circle cx="1370.9" cy="810.8" r="8.85" fill="#FF00FF" stroke="#000" stroke-width="2.9"/>
<circle cx="1391.8" cy="810.8" r="8.85" fill="#FF00FF" stroke="#000" stroke-width="2.9"/>
<circle cx="1412.3" cy="810.8" r="8.85" fill="#FF00FF" stroke="#000" stroke-width="2.9"/>
<rect x="1350.8" y="754.29" width="58.9" height="20.6" rx="10.3" fill="#000"/>
<circle cx="1399.4" cy="764.59" r="8.85" fill="#FF00FF" stroke="#000" stroke-width="2.9"/>
<circle cx="1397" cy="764.59" r="8.85" fill="#FF00FF" stroke="#000" stroke-width="2.9"/>
<circle cx="1395" cy="764.59" r="8.85" fill="#FF00FF" stroke="#000" stroke-width="2.9"/>
<circle cx="1382.5" cy="764.59" r="8.85" fill="#FF00FF" stroke="#000" stroke-width="2.9"/>
<circle cx="1393" cy="764.59" r="8.85" fill="#FF00FF" stroke="#000" stroke-width="2.9"/>
<circle cx="1391" cy="764.59" r="8.85" fill="#FF00FF" stroke="#000" stroke-width="2.9"/>
<circle cx="1361.1" cy="764.59" r="8.85" fill="#FF00FF" stroke="#000" stroke-width="2.9"/>
<circle cx="1388.2" cy="764.59" r="8.85" fill="#FF00FF" stroke="#000" stroke-width="2.9"/>
<rect x="1359.2" y="708.08" width="42" height="20.6" rx="10.3" fill="#000"/>
<circle cx="1390.9" cy="718.38" r="8.85" fill="#FF00FF" stroke="#000" stroke-width="2.9"/>
<circle cx="1369.5" cy="718.38" r="8.85" fill="#FF00FF" stroke="#000" stroke-width="2.9"/>
<circle cx="1372" cy="718.38" r="8.85" fill="#FF00FF" stroke="#000" stroke-width="2.9"/>
<circle cx="1388" cy="718.38" r="8.85" fill="#FF00FF" stroke="#000" stroke-width="2.9"/>
<circle cx="1375" cy="718.38" r="8.85" fill="#FF00FF" stroke="#000" stroke-width="2.9"/>
<circle cx="1385" cy="718.38" r="8.85" fill="#FF00FF" stroke="#000" stroke-width="2.9"/>
<circle cx="1380" cy="718.38" r="8.85" fill="#FF00FF" stroke="#000" stroke-width="2.9"/>
<rect x="1360.4" y="661.87" width="38.4" height="20.6" rx="10.3" fill="#000"/>
<circle cx="1370.7" cy="672.17" r="8.85" fill="#FF00FF" stroke="#000" stroke-width="2.9"/>
<circle cx="1372.5" cy="672.17" r="8.85" fill="#FF00FF" stroke="#000" stroke-width="2.9"/>
<circle cx="1374.8" cy="672.17" r="8.85" fill="#FF00FF" stroke="#000" stroke-width="2.9"/>
<circle cx="1388.5" cy="672.17" r="8.85" fill="#FF00FF" stroke="#000" stroke-width="2.9"/>
<rect x="1359.5" y="615.66" width="41" height="20.6" rx="10.3" fill="#000"/>
<circle cx="1380" cy="625.96" r="8.85" fill="#FF00FF" stroke="#000" stroke-width="2.9"/>
<circle cx="1369.8" cy="625.96" r="8.85" fill="#FF00FF" stroke="#000" stroke-width="2.9"/>
<circle cx="1390.2" cy="625.96" r="8.85" fill="#FF00FF" stroke="#000" stroke-width="2.9"/>
<circle cx="1380" cy="579.75" r="8.85" fill="#FF00FF" stroke="#000" stroke-width="2.9"/>
<rect x="1365.1" y="523.24" width="29.6" height="20.6" rx="10.3" fill="#000"/>
<circle cx="1375.4" cy="533.54" r="8.85" fill="#FF00FF" stroke="#000" stroke-width="2.9"/>
<circle cx="1384.4" cy="533.54" r="8.85" fill="#FF00FF" stroke="#000" stroke-width="2.9"/>
<circle cx="1377" cy="533.54" r="8.85" fill="#FF00FF" stroke="#000" stroke-width="2.9"/>
<circle cx="1383" cy="533.54" r="8.85" fill="#FF00FF" stroke="#000" stroke-width="2.9"/>
<circle cx="1378.5" cy="533.54" r="8.85" fill="#FF00FF" stroke="#000" stroke-width="2.9"/>
<circle cx="1381.5" cy="533.54" r="8.85" fill="#FF00FF" stroke="#000" stroke-width="2.9"/>
<circle cx="1380" cy="533.54" r="8.85" fill="#FF00FF" stroke="#000" stroke-width="2.9"/>
<circle cx="1380" cy="487.33" r="8.85" fill="#FF00FF" stroke="#000" stroke-width="2.9"/>
<rect x="1365.7" y="430.82" width="28.1" height="20.6" rx="10.3" fill="#000"/>
<circle cx="1383.5" cy="441.12" r="8.85" fill="#FF00FF" stroke="#000" stroke-width="2.9"/>
<circle cx="1376" cy="441.12" r="8.85" fill="#FF00FF" stroke="#000" stroke-width="2.9"/>
<circle cx="1382.5" cy="441.12" r="8.85" fill="#FF00FF" stroke="#000" stroke-width="2.9"/>
<circle cx="1377" cy="441.12" r="8.85" fill="#FF00FF" stroke="#000" stroke-width="2.9"/>
<circle cx="1378" cy="441.12" r="8.85" fill="#FF00FF" stroke="#000" stroke-width="2.9"/>
<circle cx="1381" cy="441.12" r="8.85" fill="#FF00FF" stroke="#000" stroke-width="2.9"/>
<circle cx="1379.6" cy="441.12" r="8.85" fill="#FF00FF" stroke="#000" stroke-width="2.9"/>
<text transform="translate(514.5 853.9) rotate(-45)" font-size="37.9" font-weight="bold" text-anchor="end" stroke="#000" stroke-width="0.45" stroke-linejoin="round">No Cover Crop</text>
<text transform="translate(639.3 853.9) rotate(-45)" font-size="37.9" font-weight="bold" text-anchor="end" stroke="#000" stroke-width="0.45" stroke-linejoin="round">3-Species Mixtures</text>
<text transform="translate(764 853.9) rotate(-45)" font-size="37.9" font-weight="bold" text-anchor="end" stroke="#000" stroke-width="0.45" stroke-linejoin="round">Cereal Rye + Crimson Clover</text>
<text transform="translate(888.8 853.9) rotate(-45)" font-size="37.9" font-weight="bold" text-anchor="end" stroke="#000" stroke-width="0.45" stroke-linejoin="round">Cereal Rye + Radish</text>
<text transform="translate(1013.6 853.9) rotate(-45)" font-size="37.9" font-weight="bold" text-anchor="end" stroke="#000" stroke-width="0.45" stroke-linejoin="round">Crimson Clover + Radish</text>
<text transform="translate(1138.4 853.9) rotate(-45)" font-size="37.9" font-weight="bold" text-anchor="end" stroke="#000" stroke-width="0.45" stroke-linejoin="round">Cereal Rye</text>
<text transform="translate(1263.2 853.9) rotate(-45)" font-size="37.9" font-weight="bold" text-anchor="end" stroke="#000" stroke-width="0.45" stroke-linejoin="round">Crimson Clover</text>
<text transform="translate(1388 853.9) rotate(-45)" font-size="37.9" font-weight="bold" text-anchor="end" stroke="#000" stroke-width="0.45" stroke-linejoin="round">Radish</text>
<line x1="469.5" y1="140.05" x2="1463.6" y2="140.05" stroke="#000" stroke-width="3.7" stroke-linecap="butt"/>
<line x1="469.5" y1="132.8" x2="469.5" y2="147.3" stroke="#000" stroke-width="3.4" stroke-linecap="round"/>
<line x1="1463.6" y1="132.8" x2="1463.6" y2="147.3" stroke="#000" stroke-width="3.4" stroke-linecap="round"/>
<text transform="translate(966.4 124)" font-size="34.5" font-weight="normal" text-anchor="middle" stroke="#000" stroke-width="0.6" stroke-linejoin="round">ns</text>
<text transform="translate(427 58.2) scale(1 1.060)" font-size="32.6" font-weight="bold" text-anchor="start" stroke="#000" stroke-width="0.7" stroke-linejoin="round"><tspan font-style="italic">P</tspan> = 0.437</text>
</g>
<g id="chart2">
<line x1="264.6" y1="1753.6" x2="264.6" y2="1802" stroke="#000" stroke-width="4.5" stroke-linecap="butt"/>
<line x1="230.6" y1="1753.6" x2="298.6" y2="1753.6" stroke="#000" stroke-width="4.9" stroke-linecap="round"/>
<rect x="197.1" y="1801.5" width="135" height="437.3" fill="url(#pb)" stroke="#000" stroke-width="3"/>
<line x1="471.4" y1="1509.9" x2="471.4" y2="1565.9" stroke="#000" stroke-width="4.5" stroke-linecap="butt"/>
<line x1="437.4" y1="1509.9" x2="505.4" y2="1509.9" stroke="#000" stroke-width="4.9" stroke-linecap="round"/>
<rect x="403.9" y="1565.4" width="135" height="673.4" fill="url(#po)" stroke="#000" stroke-width="3"/>
<line x1="678.3" y1="1600.6" x2="678.3" y2="1654.6" stroke="#000" stroke-width="4.5" stroke-linecap="butt"/>
<line x1="644.3" y1="1600.6" x2="712.3" y2="1600.6" stroke="#000" stroke-width="4.9" stroke-linecap="round"/>
<rect x="610.8" y="1654.1" width="135" height="584.7" fill="url(#pm)" stroke="#000" stroke-width="3"/>
<line x1="126.9" y1="1316.2" x2="126.9" y2="2238.8" stroke="#000" stroke-width="4.6" stroke-linecap="butt"/>
<line x1="111" y1="2239" x2="816" y2="2239" stroke="#000" stroke-width="4.9" stroke-linecap="butt"/>
<line x1="111" y1="2008.75" x2="126.9" y2="2008.75" stroke="#000" stroke-width="4.8" stroke-linecap="butt"/>
<line x1="111" y1="1778.7" x2="126.9" y2="1778.7" stroke="#000" stroke-width="4.8" stroke-linecap="butt"/>
<line x1="111" y1="1548.65" x2="126.9" y2="1548.65" stroke="#000" stroke-width="4.8" stroke-linecap="butt"/>
<line x1="111" y1="1318.6" x2="126.9" y2="1318.6" stroke="#000" stroke-width="4.8" stroke-linecap="butt"/>
<line x1="264.6" y1="2238.8" x2="264.6" y2="2254.4" stroke="#000" stroke-width="4.4" stroke-linecap="butt"/>
<line x1="471.4" y1="2238.8" x2="471.4" y2="2254.4" stroke="#000" stroke-width="4.4" stroke-linecap="butt"/>
<line x1="678.3" y1="2238.8" x2="678.3" y2="2254.4" stroke="#000" stroke-width="4.4" stroke-linecap="butt"/>
<text transform="translate(107.3 2253.1) scale(1 1.085)" font-size="41.2" font-weight="bold" text-anchor="end" stroke="#000" stroke-width="0.7" stroke-linejoin="round">0</text>
<text transform="translate(107.3 2023.05) scale(1 1.085)" font-size="41.2" font-weight="bold" text-anchor="end" stroke="#000" stroke-width="0.7" stroke-linejoin="round">1</text>
<g transform="translate(107.3 2023.05) scale(1 1.085)" fill="#fff"><rect x="-21.51" y="-6.05" width="7.85" height="7.25"/><rect x="-7.27" y="-6.05" width="7.32" height="7.25"/></g>
<text transform="translate(107.3 1793) scale(1 1.085)" font-size="41.2" font-weight="bold" text-anchor="end" stroke="#000" stroke-width="0.7" stroke-linejoin="round">2</text>
<text transform="translate(107.3 1562.95) scale(1 1.085)" font-size="41.2" font-weight="bold" text-anchor="end" stroke="#000" stroke-width="0.7" stroke-linejoin="round">3</text>
<text transform="translate(107.3 1332.9) scale(1 1.085)" font-size="41.2" font-weight="bold" text-anchor="end" stroke="#000" stroke-width="0.7" stroke-linejoin="round">4</text>
<text transform="translate(67.7 1768) rotate(-90) scale(1 1.030)" font-size="41.4" font-weight="bold" text-anchor="middle" stroke="#000" stroke-width="0.7" stroke-linejoin="round">Seeds Removed</text>
<text transform="translate(264.6 2296.3)" font-size="42.2" font-weight="bold" text-anchor="middle" stroke="#000" stroke-width="0.7" stroke-linejoin="round">July</text>
<text transform="translate(471.4 2296.3)" font-size="42.2" font-weight="bold" text-anchor="middle" stroke="#000" stroke-width="0.7" stroke-linejoin="round">August</text>
<text transform="translate(678.3 2296.3)" font-size="42.2" font-weight="bold" text-anchor="middle" stroke="#000" stroke-width="0.7" stroke-linejoin="round">September</text>
<text transform="translate(268.8 1714.7) scale(1 1.080)" font-size="32" font-weight="normal" text-anchor="middle" stroke="#000" stroke-width="0.6" stroke-linejoin="round">a</text>
<text transform="translate(467.7 1470.6) scale(1 1.040)" font-size="32.8" font-weight="normal" text-anchor="middle" stroke="#000" stroke-width="0.6" stroke-linejoin="round">b</text>
<text transform="translate(676.5 1548.9) scale(1 1.040)" font-size="32.8" font-weight="normal" text-anchor="middle" stroke="#000" stroke-width="0.6" stroke-linejoin="round">b</text>
<text transform="translate(143 1334.8) scale(1 1.060)" font-size="32.4" font-weight="bold" text-anchor="start" stroke="#000" stroke-width="0.7" stroke-linejoin="round"><tspan font-style="italic">P</tspan> = 0.004</text>
</g>
<g id="chart3">
<rect x="1322.25" y="2118.95" width="158.1" height="120.05" fill="url(#po)" stroke="#000" stroke-width="2.9"/>
<rect x="1563.75" y="2140.45" width="158.1" height="98.55" fill="url(#pm)" stroke="#000" stroke-width="2.9"/>
<line x1="1240.3" y1="1391.7" x2="1240.3" y2="2239" stroke="#000" stroke-width="4.4" stroke-linecap="butt"/>
<line x1="1224.6" y1="2239" x2="1804" y2="2239" stroke="#000" stroke-width="4.4" stroke-linecap="butt"/>
<line x1="1229.3" y1="2182.66" x2="1240.3" y2="2182.66" stroke="#000" stroke-width="4.4" stroke-linecap="butt"/>
<line x1="1229.3" y1="2126.32" x2="1240.3" y2="2126.32" stroke="#000" stroke-width="4.4" stroke-linecap="butt"/>
<line x1="1229.3" y1="2069.98" x2="1240.3" y2="2069.98" stroke="#000" stroke-width="4.4" stroke-linecap="butt"/>
<line x1="1229.3" y1="2013.64" x2="1240.3" y2="2013.64" stroke="#000" stroke-width="4.4" stroke-linecap="butt"/>
<line x1="1224.6" y1="1957.3" x2="1240.3" y2="1957.3" stroke="#000" stroke-width="4.4" stroke-linecap="butt"/>
<line x1="1229.3" y1="1900.96" x2="1240.3" y2="1900.96" stroke="#000" stroke-width="4.4" stroke-linecap="butt"/>
<line x1="1229.3" y1="1844.62" x2="1240.3" y2="1844.62" stroke="#000" stroke-width="4.4" stroke-linecap="butt"/>
<line x1="1229.3" y1="1788.28" x2="1240.3" y2="1788.28" stroke="#000" stroke-width="4.4" stroke-linecap="butt"/>
<line x1="1229.3" y1="1731.94" x2="1240.3" y2="1731.94" stroke="#000" stroke-width="4.4" stroke-linecap="butt"/>
<line x1="1224.6" y1="1675.6" x2="1240.3" y2="1675.6" stroke="#000" stroke-width="4.4" stroke-linecap="butt"/>
<line x1="1229.3" y1="1619.26" x2="1240.3" y2="1619.26" stroke="#000" stroke-width="4.4" stroke-linecap="butt"/>
<line x1="1229.3" y1="1562.92" x2="1240.3" y2="1562.92" stroke="#000" stroke-width="4.4" stroke-linecap="butt"/>
<line x1="1229.3" y1="1506.58" x2="1240.3" y2="1506.58" stroke="#000" stroke-width="4.4" stroke-linecap="butt"/>
<line x1="1229.3" y1="1450.24" x2="1240.3" y2="1450.24" stroke="#000" stroke-width="4.4" stroke-linecap="butt"/>
<line x1="1224.6" y1="1393.9" x2="1240.3" y2="1393.9" stroke="#000" stroke-width="4.4" stroke-linecap="butt"/>
<line x1="1400.9" y1="2239" x2="1400.9" y2="2254.3" stroke="#000" stroke-width="4.4" stroke-linecap="butt"/>
<line x1="1642.4" y1="2239" x2="1642.4" y2="2254.3" stroke="#000" stroke-width="4.4" stroke-linecap="butt"/>
<text transform="translate(1220.3 2253.5) scale(1 1.080)" font-size="41.2" font-weight="bold" text-anchor="end" stroke="#000" stroke-width="0.7" stroke-linejoin="round">0</text>
<text transform="translate(1220.3 1971.8) scale(1 1.080)" font-size="41.2" font-weight="bold" text-anchor="end" stroke="#000" stroke-width="0.7" stroke-linejoin="round">5</text>
<text transform="translate(1220.3 1690.1) scale(1 1.080)" font-size="41.2" font-weight="bold" text-anchor="end" stroke="#000" stroke-width="0.7" stroke-linejoin="round">10</text>
<g transform="translate(1220.3 1690.1) scale(1 1.080)" fill="#fff"><rect x="-44.42" y="-6.05" width="7.85" height="7.25"/><rect x="-30.18" y="-6.05" width="7.32" height="7.25"/></g>
<text transform="translate(1220.3 1408.4) scale(1 1.080)" font-size="41.2" font-weight="bold" text-anchor="end" stroke="#000" stroke-width="0.7" stroke-linejoin="round">15</text>
<g transform="translate(1220.3 1408.4) scale(1 1.080)" fill="#fff"><rect x="-44.42" y="-6.05" width="7.85" height="7.25"/><rect x="-30.18" y="-6.05" width="7.32" height="7.25"/></g>
<text transform="translate(1157.3 1806.2) rotate(-90) scale(1 1.030)" font-size="41.3" font-weight="bold" text-anchor="middle" stroke="#000" stroke-width="0.7" stroke-linejoin="round">Seeds Removed</text>
<line x1="1400.9" y1="2106.9" x2="1400.9" y2="2127.8" stroke="#000" stroke-width="3.6" stroke-linecap="butt"/>
<line x1="1360.9" y1="2106.9" x2="1440.9" y2="2106.9" stroke="#000" stroke-width="4.9" stroke-linecap="round"/>
<line x1="1360.9" y1="2127.8" x2="1440.9" y2="2127.8" stroke="#000" stroke-width="3.4" stroke-linecap="round"/>
<line x1="1642.4" y1="2130.5" x2="1642.4" y2="2146.9" stroke="#000" stroke-width="3.6" stroke-linecap="butt"/>
<line x1="1602.4" y1="2130.5" x2="1682.4" y2="2130.5" stroke="#000" stroke-width="3.3" stroke-linecap="round"/>
<line x1="1602.4" y1="2146.9" x2="1682.4" y2="2146.9" stroke="#000" stroke-width="2.6" stroke-linecap="round"/>
<rect x="1319.42" y="2226.93" width="162.95" height="24.15" rx="12.07" fill="#000"/>
<circle cx="1349.9" cy="2239" r="10.6" fill="#FD820B" stroke="#000" stroke-width="2.95"/>
<circle cx="1407.3" cy="2239" r="10.6" fill="#FD820B" stroke="#000" stroke-width="2.95"/>
<circle cx="1446.9" cy="2239" r="10.6" fill="#FD820B" stroke="#000" stroke-width="2.95"/>
<circle cx="1379.3" cy="2239" r="10.6" fill="#FD820B" stroke="#000" stroke-width="2.95"/>
<circle cx="1425.9" cy="2239" r="10.6" fill="#FD820B" stroke="#000" stroke-width="2.95"/>
<circle cx="1470.3" cy="2239" r="10.6" fill="#FD820B" stroke="#000" stroke-width="2.95"/>
<circle cx="1429.4" cy="2239" r="10.6" fill="#FD820B" stroke="#000" stroke-width="2.95"/>
<circle cx="1467.9" cy="2239" r="10.6" fill="#FD820B" stroke="#000" stroke-width="2.95"/>
<circle cx="1331.5" cy="2239" r="10.6" fill="#FD820B" stroke="#000" stroke-width="2.95"/>
<circle cx="1367.1" cy="2239" r="10.6" fill="#FD820B" stroke="#000" stroke-width="2.95"/>
<circle cx="1391.9" cy="2239" r="10.6" fill="#FD820B" stroke="#000" stroke-width="2.95"/>
<circle cx="1432.9" cy="2239" r="10.6" fill="#FD820B" stroke="#000" stroke-width="2.95"/>
<circle cx="1464.6" cy="2239" r="10.6" fill="#FD820B" stroke="#000" stroke-width="2.95"/>
<rect x="1348.12" y="2170.59" width="106.65" height="24.15" rx="12.07" fill="#000"/>
<circle cx="1360.2" cy="2182.66" r="10.6" fill="#FD820B" stroke="#000" stroke-width="2.95"/>
<circle cx="1397.9" cy="2182.66" r="10.6" fill="#FD820B" stroke="#000" stroke-width="2.95"/>
<circle cx="1442.7" cy="2182.66" r="10.6" fill="#FD820B" stroke="#000" stroke-width="2.95"/>
<circle cx="1438.9" cy="2182.66" r="10.6" fill="#FD820B" stroke="#000" stroke-width="2.95"/>
<circle cx="1368.9" cy="2182.66" r="10.6" fill="#FD820B" stroke="#000" stroke-width="2.95"/>
<circle cx="1418.9" cy="2182.66" r="10.6" fill="#FD820B" stroke="#000" stroke-width="2.95"/>
<circle cx="1434.9" cy="2182.66" r="10.6" fill="#FD820B" stroke="#000" stroke-width="2.95"/>
<circle cx="1422.9" cy="2182.66" r="10.6" fill="#FD820B" stroke="#000" stroke-width="2.95"/>
<circle cx="1379.3" cy="2182.66" r="10.6" fill="#FD820B" stroke="#000" stroke-width="2.95"/>
<circle cx="1427.3" cy="2182.66" r="10.6" fill="#FD820B" stroke="#000" stroke-width="2.95"/>
<rect x="1372.23" y="2114.25" width="56.95" height="24.15" rx="12.07" fill="#000"/>
<circle cx="1417.1" cy="2126.32" r="10.6" fill="#FD820B" stroke="#000" stroke-width="2.95"/>
<circle cx="1415.9" cy="2126.32" r="10.6" fill="#FD820B" stroke="#000" stroke-width="2.95"/>
<circle cx="1414.4" cy="2126.32" r="10.6" fill="#FD820B" stroke="#000" stroke-width="2.95"/>
<circle cx="1412.4" cy="2126.32" r="10.6" fill="#FD820B" stroke="#000" stroke-width="2.95"/>
<circle cx="1403.1" cy="2126.32" r="10.6" fill="#FD820B" stroke="#000" stroke-width="2.95"/>
<circle cx="1384.3" cy="2126.32" r="10.6" fill="#FD820B" stroke="#000" stroke-width="2.95"/>
<circle cx="1391.7" cy="2126.32" r="10.6" fill="#FD820B" stroke="#000" stroke-width="2.95"/>
<rect x="1372.23" y="2057.91" width="57.95" height="24.15" rx="12.07" fill="#000"/>
<circle cx="1418.1" cy="2069.98" r="10.6" fill="#FD820B" stroke="#000" stroke-width="2.95"/>
<circle cx="1393.9" cy="2069.98" r="10.6" fill="#FD820B" stroke="#000" stroke-width="2.95"/>
<circle cx="1384.3" cy="2069.98" r="10.6" fill="#FD820B" stroke="#000" stroke-width="2.95"/>
<circle cx="1404.6" cy="2069.98" r="10.6" fill="#FD820B" stroke="#000" stroke-width="2.95"/>
<rect x="1373.53" y="2001.56" width="55.95" height="24.15" rx="12.07" fill="#000"/>
<circle cx="1417.4" cy="2013.64" r="10.6" fill="#FD820B" stroke="#000" stroke-width="2.95"/>
<circle cx="1385.6" cy="2013.64" r="10.6" fill="#FD820B" stroke="#000" stroke-width="2.95"/>
<circle cx="1389.9" cy="2013.64" r="10.6" fill="#FD820B" stroke="#000" stroke-width="2.95"/>
<circle cx="1412.6" cy="2013.64" r="10.6" fill="#FD820B" stroke="#000" stroke-width="2.95"/>
<circle cx="1395.3" cy="2013.64" r="10.6" fill="#FD820B" stroke="#000" stroke-width="2.95"/>
<circle cx="1407.3" cy="2013.64" r="10.6" fill="#FD820B" stroke="#000" stroke-width="2.95"/>
<circle cx="1401.3" cy="2013.64" r="10.6" fill="#FD820B" stroke="#000" stroke-width="2.95"/>
<rect x="1380.12" y="1945.22" width="42.45" height="24.15" rx="12.07" fill="#000"/>
<circle cx="1392.2" cy="1957.3" r="10.6" fill="#FD820B" stroke="#000" stroke-width="2.95"/>
<circle cx="1395.9" cy="1957.3" r="10.6" fill="#FD820B" stroke="#000" stroke-width="2.95"/>
<circle cx="1398.6" cy="1957.3" r="10.6" fill="#FD820B" stroke="#000" stroke-width="2.95"/>
<circle cx="1410.5" cy="1957.3" r="10.6" fill="#FD820B" stroke="#000" stroke-width="2.95"/>
<circle cx="1408.9" cy="1957.3" r="10.6" fill="#FD820B" stroke="#000" stroke-width="2.95"/>
<circle cx="1407.4" cy="1957.3" r="10.6" fill="#FD820B" stroke="#000" stroke-width="2.95"/>
<circle cx="1405.7" cy="1957.3" r="10.6" fill="#FD820B" stroke="#000" stroke-width="2.95"/>
<rect x="1384.73" y="1888.88" width="33.45" height="24.15" rx="12.07" fill="#000"/>
<circle cx="1406.1" cy="1900.96" r="10.6" fill="#FD820B" stroke="#000" stroke-width="2.95"/>
<circle cx="1396.8" cy="1900.96" r="10.6" fill="#FD820B" stroke="#000" stroke-width="2.95"/>
<circle cx="1404.9" cy="1900.96" r="10.6" fill="#FD820B" stroke="#000" stroke-width="2.95"/>
<circle cx="1403.9" cy="1900.96" r="10.6" fill="#FD820B" stroke="#000" stroke-width="2.95"/>
<circle cx="1402.4" cy="1900.96" r="10.6" fill="#FD820B" stroke="#000" stroke-width="2.95"/>
<circle cx="1400.9" cy="1900.96" r="10.6" fill="#FD820B" stroke="#000" stroke-width="2.95"/>
<rect x="1378.83" y="1832.54" width="44.55" height="24.15" rx="12.07" fill="#000"/>
<circle cx="1400.9" cy="1844.62" r="10.6" fill="#FD820B" stroke="#000" stroke-width="2.95"/>
<circle cx="1390.9" cy="1844.62" r="10.6" fill="#FD820B" stroke="#000" stroke-width="2.95"/>
<circle cx="1411.3" cy="1844.62" r="10.6" fill="#FD820B" stroke="#000" stroke-width="2.95"/>
<rect x="1384.73" y="1776.2" width="33.45" height="24.15" rx="12.07" fill="#000"/>
<circle cx="1396.8" cy="1788.28" r="10.6" fill="#FD820B" stroke="#000" stroke-width="2.95"/>
<circle cx="1397.9" cy="1788.28" r="10.6" fill="#FD820B" stroke="#000" stroke-width="2.95"/>
<circle cx="1398.9" cy="1788.28" r="10.6" fill="#FD820B" stroke="#000" stroke-width="2.95"/>
<circle cx="1399.9" cy="1788.28" r="10.6" fill="#FD820B" stroke="#000" stroke-width="2.95"/>
<circle cx="1406.1" cy="1788.28" r="10.6" fill="#FD820B" stroke="#000" stroke-width="2.95"/>
<circle cx="1400.9" cy="1788.28" r="10.6" fill="#FD820B" stroke="#000" stroke-width="2.95"/>
<circle cx="1404.9" cy="1788.28" r="10.6" fill="#FD820B" stroke="#000" stroke-width="2.95"/>
<circle cx="1401.9" cy="1788.28" r="10.6" fill="#FD820B" stroke="#000" stroke-width="2.95"/>
<circle cx="1403.3" cy="1788.28" r="10.6" fill="#FD820B" stroke="#000" stroke-width="2.95"/>
<circle cx="1400.9" cy="1675.6" r="10.6" fill="#FD820B" stroke="#000" stroke-width="2.95"/>
<circle cx="1400.9" cy="1506.58" r="10.6" fill="#FD820B" stroke="#000" stroke-width="2.95"/>
<rect x="1560.92" y="2226.93" width="161.15" height="24.15" rx="12.07" fill="#000"/>
<circle cx="1573" cy="2239" r="10.6" fill="#FF00FF" stroke="#000" stroke-width="2.95"/>
<circle cx="1577.4" cy="2239" r="10.6" fill="#FF00FF" stroke="#000" stroke-width="2.95"/>
<circle cx="1582.4" cy="2239" r="10.6" fill="#FF00FF" stroke="#000" stroke-width="2.95"/>
<circle cx="1694.4" cy="2239" r="10.6" fill="#FF00FF" stroke="#000" stroke-width="2.95"/>
<circle cx="1614.4" cy="2239" r="10.6" fill="#FF00FF" stroke="#000" stroke-width="2.95"/>
<circle cx="1658.4" cy="2239" r="10.6" fill="#FF00FF" stroke="#000" stroke-width="2.95"/>
<circle cx="1678.4" cy="2239" r="10.6" fill="#FF00FF" stroke="#000" stroke-width="2.95"/>
<circle cx="1665" cy="2239" r="10.6" fill="#FF00FF" stroke="#000" stroke-width="2.95"/>
<circle cx="1595.8" cy="2239" r="10.6" fill="#FF00FF" stroke="#000" stroke-width="2.95"/>
<circle cx="1600.7" cy="2239" r="10.6" fill="#FF00FF" stroke="#000" stroke-width="2.95"/>
<circle cx="1633.7" cy="2239" r="10.6" fill="#FF00FF" stroke="#000" stroke-width="2.95"/>
<circle cx="1670.6" cy="2239" r="10.6" fill="#FF00FF" stroke="#000" stroke-width="2.95"/>
<circle cx="1710" cy="2239" r="10.6" fill="#FF00FF" stroke="#000" stroke-width="2.95"/>
<rect x="1588.62" y="2170.59" width="108.35" height="24.15" rx="12.07" fill="#000"/>
<circle cx="1651.7" cy="2182.66" r="10.6" fill="#FF00FF" stroke="#000" stroke-width="2.95"/>
<circle cx="1684.9" cy="2182.66" r="10.6" fill="#FF00FF" stroke="#000" stroke-width="2.95"/>
<circle cx="1600.7" cy="2182.66" r="10.6" fill="#FF00FF" stroke="#000" stroke-width="2.95"/>
<circle cx="1623.8" cy="2182.66" r="10.6" fill="#FF00FF" stroke="#000" stroke-width="2.95"/>
<circle cx="1675.4" cy="2182.66" r="10.6" fill="#FF00FF" stroke="#000" stroke-width="2.95"/>
<circle cx="1612.8" cy="2182.66" r="10.6" fill="#FF00FF" stroke="#000" stroke-width="2.95"/>
<circle cx="1637.1" cy="2182.66" r="10.6" fill="#FF00FF" stroke="#000" stroke-width="2.95"/>
<circle cx="1672" cy="2182.66" r="10.6" fill="#FF00FF" stroke="#000" stroke-width="2.95"/>
<rect x="1611.92" y="2114.25" width="61.15" height="24.15" rx="12.07" fill="#000"/>
<circle cx="1661" cy="2126.32" r="10.6" fill="#FF00FF" stroke="#000" stroke-width="2.95"/>
<circle cx="1650.9" cy="2126.32" r="10.6" fill="#FF00FF" stroke="#000" stroke-width="2.95"/>
<circle cx="1649.7" cy="2126.32" r="10.6" fill="#FF00FF" stroke="#000" stroke-width="2.95"/>
<circle cx="1624" cy="2126.32" r="10.6" fill="#FF00FF" stroke="#000" stroke-width="2.95"/>
<circle cx="1634.9" cy="2126.32" r="10.6" fill="#FF00FF" stroke="#000" stroke-width="2.95"/>
<rect x="1615.53" y="2057.91" width="54.65" height="24.15" rx="12.07" fill="#000"/>
<circle cx="1627.6" cy="2069.98" r="10.6" fill="#FF00FF" stroke="#000" stroke-width="2.95"/>
<circle cx="1635.7" cy="2069.98" r="10.6" fill="#FF00FF" stroke="#000" stroke-width="2.95"/>
<circle cx="1658.1" cy="2069.98" r="10.6" fill="#FF00FF" stroke="#000" stroke-width="2.95"/>
<rect x="1605.73" y="2001.56" width="73.95" height="24.15" rx="12.07" fill="#000"/>
<circle cx="1667.6" cy="2013.64" r="10.6" fill="#FF00FF" stroke="#000" stroke-width="2.95"/>
<circle cx="1649.6" cy="2013.64" r="10.6" fill="#FF00FF" stroke="#000" stroke-width="2.95"/>
<circle cx="1644.9" cy="2013.64" r="10.6" fill="#FF00FF" stroke="#000" stroke-width="2.95"/>
<circle cx="1617.8" cy="2013.64" r="10.6" fill="#FF00FF" stroke="#000" stroke-width="2.95"/>
<circle cx="1641.6" cy="2013.64" r="10.6" fill="#FF00FF" stroke="#000" stroke-width="2.95"/>
<circle cx="1619.4" cy="2013.64" r="10.6" fill="#FF00FF" stroke="#000" stroke-width="2.95"/>
<circle cx="1620.9" cy="2013.64" r="10.6" fill="#FF00FF" stroke="#000" stroke-width="2.95"/>
<circle cx="1638.9" cy="2013.64" r="10.6" fill="#FF00FF" stroke="#000" stroke-width="2.95"/>
<circle cx="1622.2" cy="2013.64" r="10.6" fill="#FF00FF" stroke="#000" stroke-width="2.95"/>
<circle cx="1635.6" cy="2013.64" r="10.6" fill="#FF00FF" stroke="#000" stroke-width="2.95"/>
<circle cx="1629.9" cy="2013.64" r="10.6" fill="#FF00FF" stroke="#000" stroke-width="2.95"/>
<rect x="1622.83" y="1945.22" width="39.25" height="24.15" rx="12.07" fill="#000"/>
<circle cx="1634.9" cy="1957.3" r="10.6" fill="#FF00FF" stroke="#000" stroke-width="2.95"/>
<circle cx="1642.4" cy="1957.3" r="10.6" fill="#FF00FF" stroke="#000" stroke-width="2.95"/>
<circle cx="1650" cy="1957.3" r="10.6" fill="#FF00FF" stroke="#000" stroke-width="2.95"/>
<rect x="1624.33" y="1888.88" width="36.95" height="24.15" rx="12.07" fill="#000"/>
<circle cx="1649.2" cy="1900.96" r="10.6" fill="#FF00FF" stroke="#000" stroke-width="2.95"/>
<circle cx="1636.4" cy="1900.96" r="10.6" fill="#FF00FF" stroke="#000" stroke-width="2.95"/>
<circle cx="1647.4" cy="1900.96" r="10.6" fill="#FF00FF" stroke="#000" stroke-width="2.95"/>
<circle cx="1645.9" cy="1900.96" r="10.6" fill="#FF00FF" stroke="#000" stroke-width="2.95"/>
<circle cx="1644.4" cy="1900.96" r="10.6" fill="#FF00FF" stroke="#000" stroke-width="2.95"/>
<circle cx="1642.4" cy="1900.96" r="10.6" fill="#FF00FF" stroke="#000" stroke-width="2.95"/>
<rect x="1628.33" y="1832.54" width="28.65" height="24.15" rx="12.07" fill="#000"/>
<circle cx="1644.9" cy="1844.62" r="10.6" fill="#FF00FF" stroke="#000" stroke-width="2.95"/>
<circle cx="1643.4" cy="1844.62" r="10.6" fill="#FF00FF" stroke="#000" stroke-width="2.95"/>
<circle cx="1641.9" cy="1844.62" r="10.6" fill="#FF00FF" stroke="#000" stroke-width="2.95"/>
<circle cx="1640.4" cy="1844.62" r="10.6" fill="#FF00FF" stroke="#000" stroke-width="2.95"/>
<text transform="translate(1409.9 2286.2) rotate(-45)" font-size="42" font-weight="bold" text-anchor="end" stroke="#000" stroke-width="0.4" stroke-linejoin="round">Red Rot Pigweed</text>
<text transform="translate(1651.4 2286.2) rotate(-45)" font-size="42" font-weight="bold" text-anchor="end" stroke="#000" stroke-width="0.4" stroke-linejoin="round">Yellow Foxtail</text>
<line x1="1295.7" y1="1464.5" x2="1856" y2="1464.5" stroke="#000" stroke-width="3.5" stroke-linecap="butt"/>
<line x1="1295.7" y1="1457.2" x2="1295.7" y2="1471.8" stroke="#000" stroke-width="3.3" stroke-linecap="round"/>
<line x1="1856" y1="1457.2" x2="1856" y2="1471.8" stroke="#000" stroke-width="3.3" stroke-linecap="round"/>
<text transform="translate(1576.3 1448.3)" font-size="32" font-weight="normal" text-anchor="middle" stroke="#000" stroke-width="0.6" stroke-linejoin="round">ns</text>
<text transform="translate(1283 1421.7) scale(1 1.065)" font-size="32.8" font-weight="normal" text-anchor="start" stroke="#000" stroke-width="0.6" stroke-linejoin="round"><tspan font-style="italic">P</tspan> = 0.06</text>
</g>
</svg></body></html>
